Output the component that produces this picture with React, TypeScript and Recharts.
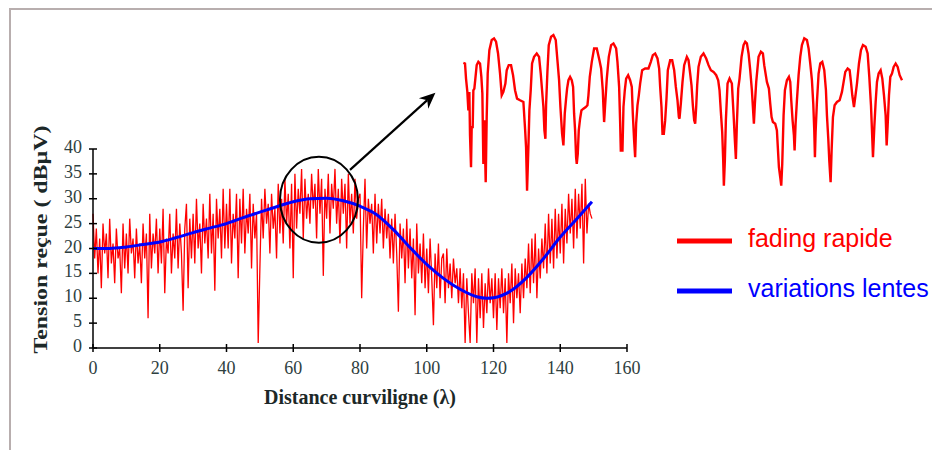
import { LineChart, Line, XAxis, YAxis, ReferenceDot, ReferenceLine, Legend, Label } from 'recharts'

const X_TICKS = [0, 20, 40, 60, 80, 100, 120, 140, 160]
const Y_TICKS = [0, 5, 10, 15, 20, 25, 30, 35, 40]

// fading rapide: one sample every 0.5 λ, from 0 to 149.5
const FADING_STEP = 0.5
const FADING = [
  27, 18, 24, 15, 22, 12, 25, 19, 23, 14,
  26, 17, 21, 13, 24, 18, 20, 11, 25, 16,
  23, 15, 26, 19, 22, 14, 24, 17, 21, 13,
  25, 18, 23, 6, 27, 16, 23, 19, 26, 15,
  24, 17, 28, 11, 22, 19, 27, 15, 23, 18,
  28, 16, 25, 19, 7.5, 24, 29, 12, 26, 18,
  27, 17, 30, 20, 25, 15, 29, 21, 26, 18,
  31, 19, 27, 11.5, 30, 22, 28, 18, 32, 20,
  29, 20, 32, 17, 27, 22, 31, 14, 30, 21,
  32, 19, 28, 23, 31, 16, 29, 22, 27, 1,
  16, 30, 22, 32, 25, 29, 19, 31, 24, 28,
  18, 33, 23, 30, 21, 34, 25, 31, 20, 33,
  14, 35, 24, 32, 27, 36, 22, 34, 26, 31,
  25, 35, 28, 33, 22, 36, 27, 34, 14.5, 32,
  26, 35, 23, 33, 28, 36, 25, 32, 21, 34,
  27, 33, 20, 35, 25, 31, 23, 34, 26, 30,
  31, 10, 24, 34, 20, 30, 25, 29, 19, 31,
  21, 29, 23, 30, 20, 28, 22, 27, 18, 26,
  17, 27, 19, 7.3, 25, 18, 24, 13, 26, 16,
  24, 14, 22, 6.6, 25, 15, 21, 13, 23, 12,
  20, 11, 22, 14, 4.6, 19, 12, 21, 10, 18,
  19, 9, 20, 12, 17, 10, 18, 13, 16, 9,
  16, 8, 15, 1, 14, 7, 1, 15, 9, 16,
  1, 14, 6, 15, 4, 13, 7, 16, 9, 14,
  6, 15, 3.6, 14, 8, 16, 7, 14, 1, 15,
  9, 17, 5, 16, 10, 15, 7, 17, 10, 18,
  12, 21, 11, 22, 13, 23, 10, 20, 14, 22,
  16, 25, 15, 27, 17, 26, 16, 28, 18, 27,
  19, 29, 17, 28, 21, 31, 23, 30, 20, 32,
  22, 31, 24, 33, 17, 34, 23, 29, 27, 26,
]

// variations lentes
const SLOW_X = [0, 5, 10, 15, 20, 25, 30, 35, 40, 45, 50, 55, 60, 65, 70, 75, 80, 85, 90, 95, 100, 105, 110, 115, 118, 120, 125, 130, 135, 140, 145, 149.5]
const SLOW_Y = [20, 20, 20.3, 20.8, 21.3, 22.2, 23.2, 24.1, 25, 26.2, 27.3, 28.4, 29.4, 30, 30.1, 29.6, 28.5, 26.8, 23.8, 20.2, 16.8, 14, 11.8, 10.3, 10, 10.1, 11.4, 14.2, 18, 22.3, 26, 29.4]

// zoom on the circled part (local distance, local level)
const ZOOM_X = [
  7.0, 7.5, 7.8, 8.2, 8.5, 8.8, 9.0, 9.3, 9.5, 9.8, 10.0, 10.3, 10.6, 11.0, 11.5, 12.0, 12.4, 12.7, 13.0, 13.3,
  13.7, 14.0, 14.3, 14.8, 15.5, 16.2, 16.8, 17.4, 18.0, 18.5, 19.0, 19.6, 20.0, 20.6, 21.3, 21.9, 22.5, 23.1, 24.0, 25.0,
  25.5, 25.8, 26.1, 26.5, 26.8, 27.2, 27.6, 28.2, 29.0, 29.7, 30.2, 30.6, 31.0, 31.3, 31.6, 31.8, 32.2, 32.6, 33.3, 34.0,
  34.7, 35.2, 35.7, 36.1, 36.6, 37.0, 37.4, 37.8, 38.1, 38.5, 39.0, 39.5, 39.9, 40.2, 40.5, 40.8, 41.0, 41.3, 41.6, 42.0,
  42.4, 43.0, 43.7, 44.2, 44.5, 44.9, 45.5, 46.2, 47.0, 47.8, 48.3, 48.8, 49.0, 49.2, 49.5, 50.0, 50.6, 51.3, 52.0, 52.8,
  53.2, 53.7, 54.0, 54.2, 54.7, 55.0, 55.4, 55.8, 56.4, 57.0, 57.5, 57.8, 58.2, 58.5, 58.8, 59.2, 59.6, 60.0, 60.6, 61.5,
  62.5, 63.2, 63.8, 64.5, 65.2, 65.7, 66.0, 66.4, 66.7, 67.1, 67.5, 67.9, 68.3, 69.0, 69.6, 70.2, 70.7, 71.2, 71.6, 71.8,
  72.2, 72.7, 73.2, 74.0, 74.5, 75.0, 75.4, 75.8, 76.2, 76.5, 76.8, 77.1, 77.5, 78.2, 79.0, 79.8, 80.5, 81.2, 82.0, 82.8,
  83.4, 83.8, 84.2, 84.6, 84.9, 85.1, 85.4, 85.7, 86.2, 86.8, 87.5, 88.0, 88.4, 88.7, 89.0, 89.4, 89.8, 90.4, 91.0, 91.5,
  92.0, 92.5, 93.0, 93.5, 93.8, 94.1, 94.4, 94.8, 95.5, 96.2, 96.8, 97.2, 98.0, 98.6, 99.0, 99.4, 99.8, 100.5, 101.0, 101.3,
  101.6, 102.0, 102.3, 102.6, 103.0, 103.4, 104.0, 104.6, 105.0, 105.3, 105.7, 106.1, 106.3, 106.6, 107.0, 107.5, 108.0, 108.5, 109.2, 110.0,
  110.5, 111.0, 111.5, 111.9, 112.2, 112.4, 112.6, 113.0, 113.5, 114.0, 114.6, 115.2, 115.7, 116.0, 116.4, 116.7, 117.1, 117.4, 117.8, 118.3,
  119.0, 119.8, 120.5, 121.0, 121.5, 122.2, 122.8, 123.2, 123.6, 124.1, 124.5, 125.0, 125.6, 126.2, 126.8, 127.6, 128.2, 128.7, 129.2, 129.5,
  129.8, 130.2, 130.6, 131.0, 131.5, 132.1, 132.6, 133.1, 133.6, 133.9, 134.2, 134.6, 135.0, 135.5, 136.0, 136.6, 137.2, 137.8, 138.5,
]
const ZOOM_Y = [
  39.2, 39.0, 34.5, 30.5, 25.0, 30.5, 17.5, 8.0, 20.0, 20.0, 31.0, 31.5, 34.5, 38.5, 39.5, 39.0, 35.0, 30.0, 9.0, 22.0,
  3.5, 23.0, 36.0, 43.0, 46.0, 46.5, 45.5, 42.0, 36.0, 29.5, 30.5, 33.0, 37.0, 38.5, 38.5, 35.5, 31.0, 28.5, 28.0, 27.5,
  19.5, 14.0, 1.0, 14.0, 25.0, 31.0, 39.0, 41.0, 42.0, 41.0, 36.0, 31.0, 26.0, 19.0, 16.5, 26.5, 36.5, 44.5, 47.0, 47.5,
  46.0, 40.0, 34.0, 26.0, 18.0, 14.5, 24.0, 28.5, 31.5, 34.0, 35.0, 34.0, 32.0, 24.0, 19.0, 11.0, 9.0, 12.0, 19.0, 22.5,
  25.0, 25.5, 26.0, 26.5, 29.5, 35.0, 39.5, 43.5, 43.5, 40.0, 37.5, 31.0, 26.0, 21.5, 26.5, 34.5, 41.0, 44.5, 45.0, 43.5,
  39.5, 32.0, 21.5, 13.0, 13.0, 26.0, 31.0, 34.5, 35.5, 34.0, 32.0, 24.0, 16.0, 11.0, 21.0, 26.5, 29.5, 33.0, 37.0, 37.5,
  37.5, 39.5, 41.5, 42.0, 40.5, 37.5, 32.0, 26.0, 18.0, 18.0, 22.0, 28.5, 37.0, 40.0, 40.0, 37.0, 32.0, 28.0, 23.0, 22.5,
  27.0, 33.5, 38.5, 41.0, 40.0, 36.0, 32.5, 26.5, 22.0, 21.0, 26.0, 32.5, 38.0, 41.0, 42.0, 40.5, 38.5, 37.0, 36.5, 35.5,
  34.0, 31.0, 24.5, 18.5, 10.0, 2.5, 10.0, 22.0, 33.0, 34.5, 33.0, 24.0, 16.0, 10.5, 21.0, 31.5, 34.5, 41.0, 44.5, 45.5,
  45.0, 42.0, 37.0, 31.0, 26.0, 21.0, 27.0, 33.5, 41.0, 42.5, 42.0, 38.5, 33.5, 31.5, 27.0, 23.0, 21.5, 21.0, 19.0, 13.5,
  8.0, 5.0, 2.5, 9.0, 23.5, 31.0, 34.0, 35.0, 33.5, 28.0, 22.0, 17.5, 13.0, 21.0, 28.0, 35.5, 41.0, 44.5, 46.5, 46.0,
  43.5, 39.0, 34.0, 27.0, 19.0, 11.0, 18.5, 27.5, 36.0, 39.0, 39.5, 37.0, 31.0, 23.5, 16.5, 10.0, 3.5, 13.0, 23.0, 26.5,
  27.5, 28.0, 30.5, 33.5, 36.5, 37.5, 37.0, 33.5, 29.5, 26.0, 29.0, 33.0, 39.0, 43.0, 44.5, 44.0, 42.0, 35.0, 26.5, 19.0,
  11.0, 20.0, 27.5, 33.5, 36.0, 37.0, 34.5, 29.5, 23.5, 14.5, 20.5, 29.5, 35.0, 36.0, 38.0, 39.0, 38.0, 35.5, 34.0,
]

const fadingData = FADING.map((v, i) => ({ x: i * FADING_STEP, v }))
const slowData = SLOW_X.map((x, i) => ({ x, v: SLOW_Y[i] }))
const zoomData = ZOOM_X.map((x, i) => ({ x, v: ZOOM_Y[i] }))

const SERIF = '"Liberation Serif", "Times New Roman", serif'
const SANS = '"Liberation Sans", Arial, sans-serif'
const TICK_COLOR = '#2e4040'

function YTick({ x, y, payload }: any) {
  return (
    <g>
      <line x1={x - 4} x2={x + 4} y1={y} y2={y} stroke="#000" strokeWidth={1.5} />
      <text x={x - 11} y={y - 2} textAnchor="end" dominantBaseline="central" fontSize={18} fontFamily={SERIF} fill={TICK_COLOR}>
        {payload.value}
      </text>
    </g>
  )
}

function XTick({ x, y, payload }: any) {
  return (
    <g>
      <line x1={x} x2={x} y1={y - 4} y2={y + 4} stroke="#000" strokeWidth={1.5} />
      <text x={x} y={y + 20} textAnchor="middle" dominantBaseline="central" fontSize={18} fontFamily={SERIF} fill={TICK_COLOR}>
        {payload.value}
      </text>
    </g>
  )
}

function Arrow({ x1, y1, x2, y2 }: any) {
  const a = Math.atan2(y2 - y1, x2 - x1)
  const len = 16
  const w = 7
  const bx = x2 - len * Math.cos(a)
  const by = y2 - len * Math.sin(a)
  const nx = x2 - (len - 5) * Math.cos(a)
  const ny = y2 - (len - 5) * Math.sin(a)
  const pts = [
    [x2, y2],
    [bx + w * Math.sin(a), by - w * Math.cos(a)],
    [nx, ny],
    [bx - w * Math.sin(a), by + w * Math.cos(a)],
  ]
  return (
    <g>
      <line x1={x1} y1={y1} x2={nx} y2={ny} stroke="#000" strokeWidth={2.2} />
      <polygon points={pts.map((p) => p.join(',')).join(' ')} fill="#000" />
    </g>
  )
}

function LegendBox({ payload }: any) {
  return (
    <svg width={262} height={100}>
      {(payload || []).map((item: any, i: number) => (
        <g key={item.value}>
          <line x1={7} x2={62} y1={26 + i * 50} y2={26 + i * 50} stroke={item.color} strokeWidth={5} />
          <text x={78} y={32 + i * 50} fontSize={25} fontFamily={SANS} fill={item.color}>
            {item.value}
          </text>
        </g>
      ))}
    </svg>
  )
}

export default function App() {
  return (
    <div style={{ position: 'absolute', left: 0, top: 0, width: 932, height: 450, background: '#fff' }}>
      <div
        style={{
          position: 'absolute',
          left: 9,
          top: 8,
          width: 923,
          height: 442,
          borderTop: '2px solid #b8aeae',
          borderLeft: '2px solid #b8aeae',
        }}
      />
      <div style={{ position: 'absolute', left: 0, top: 0 }}>
        <LineChart width={932} height={450} margin={{ top: 149, right: 305, bottom: 42, left: 13 }}>
          <XAxis
            type="number"
            dataKey="x"
            domain={[0, 160]}
            ticks={X_TICKS}
            interval={0}
            height={60}
            tickSize={0}
            tickMargin={0}
            tick={<XTick />}
            axisLine={{ stroke: '#000', strokeWidth: 1.5 }}
          >
            <Label
              content={({ viewBox }: any) => (
                <text
                  x={viewBox.x + viewBox.width / 2}
                  y={viewBox.y + 56}
                  textAnchor="middle"
                  fontSize={20}
                  fontWeight="bold"
                  fontFamily={SERIF}
                  fill="#1c2828"
                >
                  Distance curviligne (λ)
                </text>
              )}
            />
          </XAxis>
          <YAxis
            type="number"
            domain={[0, 40]}
            ticks={Y_TICKS}
            interval={0}
            width={80}
            tickSize={0}
            tickMargin={0}
            tick={<YTick />}
            axisLine={{ stroke: '#000', strokeWidth: 1.5 }}
          >
            <Label
              content={({ viewBox }: any) => {
                const cx = viewBox.x + 27
                const cy = viewBox.y + viewBox.height / 2 - 9
                return (
                  <text
                    x={cx}
                    y={cy}
                    transform={`rotate(-90, ${cx}, ${cy})`}
                    textAnchor="middle"
                    dominantBaseline="central"
                    fontSize={19}
                    fontWeight="bold"
                    fontFamily={SERIF}
                    fill="#1c2828"
                    textLength={228}
                    lengthAdjust="spacingAndGlyphs"
                  >
                    Tension reçue ( dBµV)
                  </text>
                )
              }}
            />
          </YAxis>
          <Line
            name="fading rapide"
            data={fadingData}
            dataKey="v"
            type="linear"
            stroke="#ff0000"
            strokeWidth={1.3}
            dot={false}
            isAnimationActive={false}
          />
          <Line
            name="variations lentes"
            data={slowData}
            dataKey="v"
            type="monotone"
            stroke="#0000ff"
            strokeWidth={3}
            dot={false}
            isAnimationActive={false}
          />
          <ReferenceDot
            x={67.7}
            y={29.8}
            ifOverflow="visible"
            shape={(p: any) => <ellipse cx={p.cx} cy={p.cy} rx={39} ry={43} fill="none" stroke="#000" strokeWidth={2} />}
          />
          <ReferenceLine
            segment={[{ x: 77, y: 35.8 }, { x: 102.6, y: 51.3 }]}
            ifOverflow="visible"
            shape={<Arrow />}
          />
          <Legend
            layout="vertical"
            align="center"
            verticalAlign="middle"
            content={<LegendBox />}
            wrapperStyle={{ left: 670, top: 215, width: 262, height: 100 }}
          />
        </LineChart>
      </div>
      <div style={{ position: 'absolute', left: 440, top: 20 }}>
        <LineChart width={467} height={174} margin={{ top: 0, right: 0, bottom: 0, left: 0 }}>
          <XAxis type="number" dataKey="x" domain={[0, 140]} hide />
          <YAxis type="number" domain={[0, 52]} hide />
          <Line data={zoomData} dataKey="v" type="linear" stroke="#ff0000" strokeWidth={2.4} dot={false} isAnimationActive={false} />
        </LineChart>
      </div>
    </div>
  )
}
